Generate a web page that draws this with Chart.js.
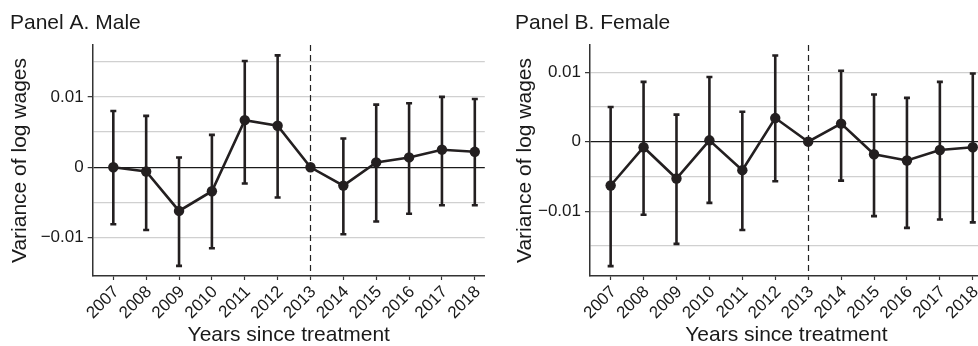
<!DOCTYPE html>
<html><head><meta charset="utf-8">
<script src="https://cdn.jsdelivr.net/npm/chart.js@4"></script>
<style>
html,body{margin:0;padding:0;background:#fff;overflow:hidden;width:978px;height:346px;}
#wrap{position:relative;width:978px;height:346px;overflow:hidden;}
canvas{position:absolute;top:0;}
#cA{left:0}
#cB{left:505px}
</style></head><body>
<div id="wrap"><canvas id="cA" width="490" height="346"></canvas><canvas id="cB" width="483" height="346"></canvas></div>
<script>
const YEARS = [2007, 2008, 2009, 2010, 2011, 2012, 2013, 2014, 2015, 2016, 2017, 2018];
const EVENT_YEAR = 2013;

const MALE_EST = [0, -0.0006, -0.0062, -0.0034, 0.0067, 0.0059, 0, -0.0026, 0.0007, 0.0014, 0.0025, 0.0022];
const MALE_LO  = [-0.0081, -0.0089, -0.0140, -0.0115, -0.0023, -0.0043, null, -0.0095, -0.0077, -0.0066, -0.0054, -0.0054];
const MALE_HI  = [0.0080, 0.0073, 0.0014, 0.0046, 0.0151, 0.0159, null, 0.0041, 0.0089, 0.0091, 0.0100, 0.0097];

const FEMALE_EST = [-0.0063, -0.0008, -0.0053, 0.0002, -0.0041, 0.0034, 0, 0.0026, -0.0018, -0.0027, -0.0012, -0.0008];
const FEMALE_LO  = [-0.0179, -0.0105, -0.0147, -0.0088, -0.0127, -0.0057, null, -0.0056, -0.0107, -0.0124, -0.0112, -0.0116];
const FEMALE_HI  = [0.0050, 0.0086, 0.0039, 0.0093, 0.0043, 0.0124, null, 0.0102, 0.0068, 0.0063, 0.0086, 0.0098];

const MALE_Y_GRID   = [-0.01, -0.005, 0, 0.005, 0.01, 0.015];
const FEMALE_Y_GRID = [-0.015, -0.01, -0.005, 0, 0.005, 0.01];
const Y_TICKS       = [-0.01, 0, 0.01];
const Y_TICK_LABELS = ['\u22120.01', '0', '0.01'];

const INK = '#231f20';
const FONT = "'Liberation Sans', Arial, Helvetica, sans-serif";
Chart.defaults.font.family = FONT;
Chart.defaults.color = '#1a1a1a';

function yIndex(v){ return Y_TICKS.findIndex(t => Math.abs(t - v) < 1e-9); }

function makeErrPlugin(lo, hi){
  return {
    id: 'errbars',
    beforeDatasetsDraw(chart){
      const {ctx, chartArea, scales:{x, y}} = chart;
      ctx.save();
      const vx = Math.round(x.getPixelForValue(EVENT_YEAR)) + 0.5;
      ctx.beginPath();
      ctx.setLineDash([6, 4]);
      ctx.strokeStyle = '#222';
      ctx.lineWidth = 1.2;
      ctx.moveTo(vx, chartArea.top);
      ctx.lineTo(vx, chartArea.bottom);
      ctx.stroke();
      ctx.setLineDash([]);
      ctx.strokeStyle = INK;
      ctx.lineWidth = 2.6;
      YEARS.forEach((yr, i) => {
        if (lo[i] == null || hi[i] == null) return;
        const px = x.getPixelForValue(yr);
        const pl = y.getPixelForValue(lo[i]);
        const ph = y.getPixelForValue(hi[i]);
        ctx.beginPath();
        ctx.moveTo(px, pl); ctx.lineTo(px, ph);
        ctx.moveTo(px - 3, pl); ctx.lineTo(px + 3, pl);
        ctx.moveTo(px - 3, ph); ctx.lineTo(px + 3, ph);
        ctx.stroke();
      });
      ctx.restore();
    }
  };
}

function makeChart(id, title, est, lo, hi, grid, ymin, ymax, yw){
  return new Chart(document.getElementById(id), {
    type: 'line',
    data: {
      datasets: [{
        data: YEARS.map((yr, i) => ({x: yr, y: est[i]})),
        borderColor: INK,
        borderWidth: 2.6,
        pointRadius: 5.2,
        pointBackgroundColor: INK,
        pointBorderWidth: 0,
        tension: 0,
        clip: false
      }]
    },
    options: {
      responsive: false,
      devicePixelRatio: 1,
      animation: false,
      layout: {padding: {left: 10, right: 5, top: 0, bottom: 0}},
      plugins: {
        legend: {display: false},
        tooltip: {enabled: false},
        title: {
          display: true, text: title, align: 'start', color: '#1a1a1a',
          font: {size: 21, weight: 'normal', lineHeight: 1},
          padding: {top: 13, bottom: 11}
        }
      },
      scales: {
        x: {
          type: 'linear', min: 2006.373, max: 2018.304,
          afterBuildTicks: s => { s.ticks = YEARS.map(v => ({value: v})); },
          afterFit: s => { s.height = 70; s.paddingLeft = 0; s.paddingRight = 0; },
          ticks: {
            callback: v => String(v), minRotation: 45, maxRotation: 45,
            autoSkip: false, padding: 2, labelOffset: 3, font: {size: 17}, color: '#1a1a1a'
          },
          grid: {drawOnChartArea: false, tickLength: 4, tickColor: '#333', tickWidth: 1.2},
          border: {color: '#333', width: 1.5},
          title: {
            display: true, text: 'Years since treatment', color: '#1a1a1a',
            font: {size: 21, lineHeight: 1}, padding: {top: 0, bottom: 0}
          }
        },
        y: {
          type: 'linear', min: ymin, max: ymax,
          afterBuildTicks: s => { s.ticks = grid.filter(v => v >= s.min && v <= s.max).map(v => ({value: v})); },
          afterFit: s => { s.width = yw; s.paddingTop = 0; s.paddingBottom = 0; },
          ticks: {
            callback: v => { const k = yIndex(v); return k < 0 ? '' : Y_TICK_LABELS[k]; },
            autoSkip: false, padding: 4, font: {size: 17}, color: '#1a1a1a'
          },
          grid: {
            color: c => (c.tick && Math.abs(c.tick.value) < 1e-9) ? '#1a1a1a' : '#d0d0d0',
            lineWidth: c => (c.tick && Math.abs(c.tick.value) < 1e-9) ? 1.2 : 1.3,
            tickLength: 5,
            tickColor: c => (c.tick && yIndex(c.tick.value) >= 0) ? '#333' : 'rgba(0,0,0,0)',
            tickWidth: 1.2
          },
          border: {color: '#333', width: 1.5},
          title: {
            display: true, text: 'Variance of log wages', color: '#1a1a1a',
            font: {size: 21, lineHeight: 1}, padding: {top: 0, bottom: 0}
          }
        }
      }
    },
    plugins: [makeErrPlugin(lo, hi)]
  });
}

makeChart('cA', 'Panel A. Male', MALE_EST, MALE_LO, MALE_HI, MALE_Y_GRID, -0.01544, 0.01737, 82.7);
makeChart('cB', 'Panel B. Female', FEMALE_EST, FEMALE_LO, FEMALE_HI, FEMALE_Y_GRID, -0.01932, 0.01391, 75);
</script>
</body></html>
